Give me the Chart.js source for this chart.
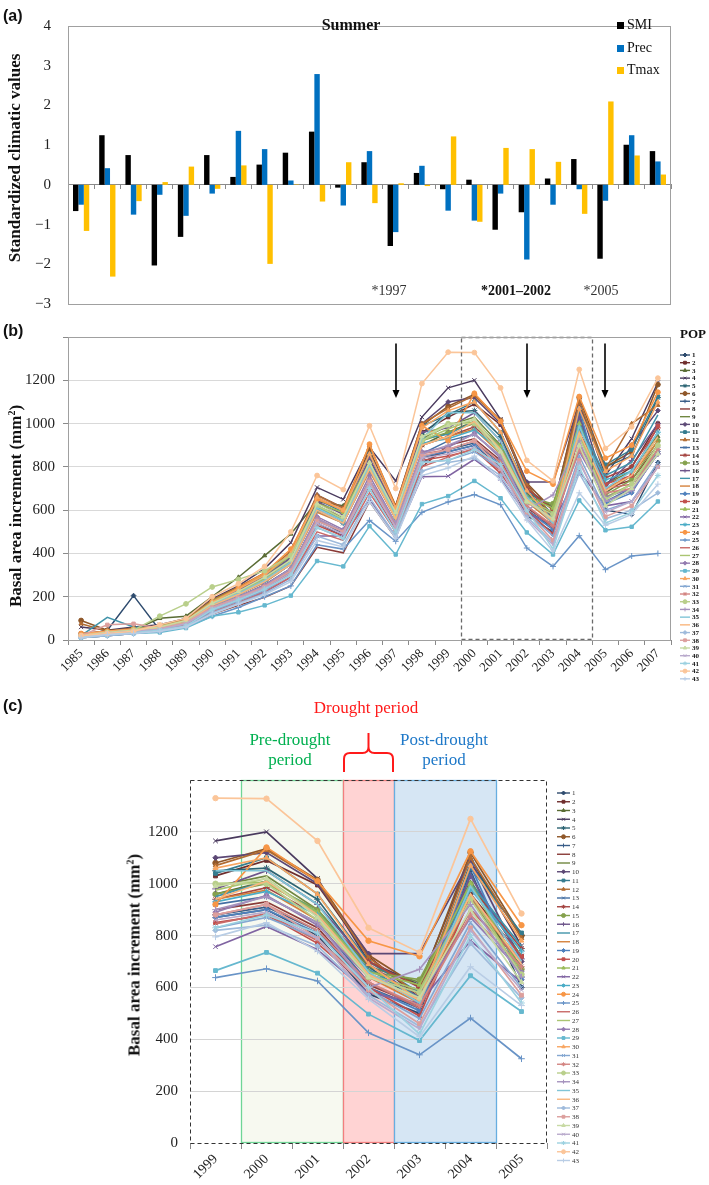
<!DOCTYPE html>
<html>
<head>
<meta charset="utf-8">
<script src="https://cdn.jsdelivr.net/npm/chart.js@4.4.1/dist/chart.umd.min.js"></script>
<style>
  html, body { margin: 0; padding: 0; background: #fff; }
  #wrap { position: relative; width: 709px; height: 1185px; overflow: hidden; font-family: "Liberation Serif", serif; color: #111; }
  canvas { position: absolute; left: 0; }
  .t { position: absolute; white-space: nowrap; transform: translate(-50%, -50%); line-height: 1; }
  .panel { position: absolute; left: 3px; font: bold 16px "Liberation Sans", Arial, sans-serif; line-height: 1; }
  .ytitle { font-weight: bold; font-size: 17px; transform: translate(-50%, -50%) rotate(-90deg); }
  .ytitle sup { font-size: 10px; vertical-align: 6px; line-height: 0; }
  .key { position: absolute; left: 617px; transform: translateY(-50%); font-size: 14px; display: flex; align-items: center; line-height: 1; }
  .key span { display: inline-block; width: 7px; height: 7px; margin-right: 3px; }
</style>
</head>
<body>
<div id="wrap">
  <canvas id="chartA" width="709" height="330" style="top:0"></canvas>
  <canvas id="chartB" width="709" height="370" style="top:320px"></canvas>
  <canvas id="chartC" width="709" height="495" style="top:690px"></canvas>

  <div class="panel" style="top:8px">(a)</div>
  <div class="panel" style="top:323px">(b)</div>
  <div class="panel" style="top:698px">(c)</div>

  <div class="t ytitle" style="left:14px;top:158px">Standardized climatic values</div>
  <div class="t ytitle" style="left:15px;top:506px">Basal area increment (mm<sup>2</sup>)</div>
  <div class="t ytitle" style="left:134px;top:955px">Basal area increment (mm<sup>2</sup>)</div>

  <div class="t" style="left:351px;top:25px;font-weight:bold;font-size:16px">Summer</div>
  <div class="key" style="top:25px"><span style="background:#000"></span>SMI</div>
  <div class="key" style="top:48px"><span style="background:#0070C0"></span>Prec</div>
  <div class="key" style="top:70px"><span style="background:#FFC000"></span>Tmax</div>

  <div class="t" style="left:389px;top:291px;font-size:14px;color:#333">*1997</div>
  <div class="t" style="left:516px;top:291px;font-size:14px;font-weight:bold">*2001–2002</div>
  <div class="t" style="left:601px;top:291px;font-size:14px;color:#333">*2005</div>

  <div class="t" style="left:693px;top:333px;font-size:13px;font-weight:bold">POP</div>

  <div class="t" style="left:366px;top:707px;font-size:17px;color:#FF1A1A">Drought period</div>
  <div class="t" style="left:290px;top:739px;font-size:17px;color:#00B050">Pre-drought</div>
  <div class="t" style="left:290px;top:759px;font-size:17px;color:#00B050">period</div>
  <div class="t" style="left:444px;top:739px;font-size:17px;color:#1E78C8">Post-drought</div>
  <div class="t" style="left:444px;top:759px;font-size:17px;color:#1E78C8">period</div>
</div>

<script>
// ── DATA ──
const years = ['1985','1986','1987','1988','1989','1990','1991','1992','1993','1994','1995','1996',
               '1997','1998','1999','2000','2001','2002','2003','2004','2005','2006','2007'];

// standardized summer climate values (panel a)
const smi  = [-0.66, 1.25, 0.75, -2.03, -1.31, 0.75, 0.20, 0.51, 0.81, 1.34, -0.07, 0.57,
              -1.54, 0.30, -0.11, 0.13, -1.13, -0.69, 0.16, 0.65, -1.86, 1.01, 0.85];
const prec = [-0.50, 0.42, -0.75, -0.25, -0.78, -0.22, 1.36, 0.90, 0.11, 2.79, -0.52, 0.85,
              -1.19, 0.48, -0.65, -0.90, -0.22, -1.88, -0.50, -0.11, -0.40, 1.25, 0.59];
const tmax = [-1.16, -2.31, -0.41, 0.07, 0.46, -0.10, 0.49, -1.99, 0.01, -0.42, 0.57, -0.46,
              0.04, -0.03, 1.22, -0.93, 0.93, 0.90, 0.58, -0.73, 2.10, 0.74, 0.26];

// basal area increment per population, 1985-2007 (panel b, c)
const pop01 = [20, 45, 205, 45, 75, 150, 200, 255, 330, 560, 490, 720, 520, 840, 870, 900, 800, 575, 500, 1050, 600, 580, 820];
const pop02 = [30, 40, 55, 60, 90, 170, 230, 290, 380, 640, 560, 820, 580, 960, 1030, 1090, 995, 720, 560, 960, 720, 800, 1000];
const pop03 = [15, 30, 45, 100, 110, 200, 290, 390, 490, 640, 620, 790, 560, 900, 960, 1010, 880, 650, 590, 940, 680, 760, 940];
const pop04 = [60, 45, 60, 70, 100, 190, 250, 330, 450, 705, 650, 890, 735, 1030, 1165, 1200, 1020, 700, 610, 1100, 760, 930, 1190];
const pop05 = [25, 35, 50, 60, 85, 175, 220, 280, 360, 620, 560, 830, 590, 950, 1050, 1060, 940, 680, 540, 1080, 800, 850, 1120];
const pop06 = [90, 45, 50, 65, 95, 180, 240, 300, 400, 660, 600, 880, 600, 990, 1080, 1135, 1015, 725, 600, 1120, 800, 870, 1180];
const pop07 = [15, 25, 35, 50, 70, 140, 185, 240, 310, 540, 480, 700, 500, 820, 880, 910, 820, 600, 520, 960, 640, 690, 860];
const pop08 = [10, 20, 30, 40, 60, 120, 160, 197, 250, 428, 403, 640, 470, 800, 900, 930, 830, 610, 530, 900, 700, 740, 900];
const pop09 = [20, 35, 45, 55, 85, 170, 225, 290, 370, 620, 560, 820, 580, 930, 990, 1030, 900, 680, 620, 1010, 720, 780, 950];
const pop10 = [25, 40, 50, 60, 90, 180, 235, 300, 390, 670, 610, 860, 620, 1000, 1100, 1120, 1000, 730, 730, 1090, 700, 900, 1060];
const pop11 = [20, 35, 50, 60, 90, 170, 230, 290, 380, 650, 590, 860, 610, 990, 1040, 1100, 960, 700, 580, 1060, 810, 880, 1125];
const pop12 = [75, 40, 55, 65, 95, 185, 245, 310, 410, 670, 610, 900, 620, 1000, 1070, 1130, 1010, 715, 570, 1100, 790, 1000, 1085];
const pop13 = [15, 30, 40, 50, 75, 150, 200, 250, 330, 560, 500, 740, 530, 860, 920, 950, 850, 620, 520, 1040, 640, 700, 880];
const pop14 = [20, 35, 45, 55, 80, 160, 210, 270, 350, 600, 540, 790, 570, 900, 940, 985, 880, 700, 600, 990, 750, 800, 980];
const pop15 = [25, 35, 50, 60, 85, 165, 220, 280, 360, 610, 560, 800, 580, 920, 960, 1000, 900, 660, 630, 1000, 670, 740, 920];
const pop16 = [20, 40, 50, 60, 90, 175, 230, 295, 380, 640, 580, 840, 600, 960, 980, 1050, 920, 690, 560, 1030, 710, 830, 1000];
const pop17 = [20, 105, 60, 55, 85, 165, 215, 275, 360, 610, 550, 810, 575, 930, 950, 1010, 890, 670, 560, 1000, 760, 820, 1040];
const pop18 = [25, 35, 45, 55, 80, 160, 210, 265, 350, 590, 540, 780, 560, 900, 940, 975, 860, 640, 540, 940, 700, 760, 920];
const pop19 = [15, 30, 40, 50, 75, 150, 195, 245, 320, 550, 500, 730, 520, 850, 870, 900, 810, 600, 510, 1070, 630, 680, 870];
const pop20 = [20, 30, 40, 50, 70, 145, 190, 240, 310, 530, 480, 710, 510, 830, 850, 880, 770, 600, 490, 950, 720, 760, 990];
const pop21 = [25, 40, 50, 65, 90, 180, 240, 300, 390, 630, 590, 820, 590, 940, 1000, 1005, 890, 660, 610, 1000, 660, 720, 900];
const pop22 = [15, 25, 35, 45, 65, 130, 170, 220, 290, 480, 480, 650, 480, 754, 757, 835, 745, 580, 540, 780, 620, 640, 800];
const pop23 = [20, 35, 45, 55, 80, 160, 210, 270, 350, 600, 540, 790, 565, 910, 930, 970, 880, 650, 550, 980, 740, 780, 960];
const pop24 = [30, 40, 50, 60, 90, 175, 240, 310, 420, 650, 600, 905, 610, 990, 920, 1140, 1010, 780, 720, 1125, 840, 900, 1145];
const pop25 = [10, 20, 30, 40, 60, 110, 150, 200, 250, 440, 420, 553, 456, 590, 638, 672, 625, 425, 340, 482, 325, 388, 400];
const pop26 = [15, 25, 35, 45, 65, 130, 175, 225, 290, 500, 460, 680, 500, 800, 845, 885, 780, 620, 520, 900, 700, 720, 880];
const pop27 = [20, 35, 45, 55, 80, 165, 220, 280, 360, 620, 560, 800, 575, 920, 975, 1020, 880, 650, 590, 960, 650, 720, 880];
const pop28 = [20, 30, 40, 50, 75, 150, 200, 255, 330, 570, 510, 760, 540, 870, 890, 955, 840, 640, 560, 870, 660, 700, 860];
const pop29 = [10, 20, 30, 35, 55, 110, 128, 160, 205, 365, 340, 526, 395, 628, 665, 735, 655, 497, 395, 645, 507, 523, 640];
const pop30 = [25, 40, 50, 60, 90, 175, 235, 300, 400, 660, 600, 860, 610, 980, 1060, 1100, 960, 690, 550, 1070, 780, 850, 1100];
const pop31 = [15, 25, 35, 45, 65, 135, 180, 230, 300, 520, 470, 700, 500, 820, 830, 870, 790, 590, 480, 850, 600, 640, 820];
const pop32 = [20, 30, 40, 50, 75, 150, 195, 250, 320, 560, 500, 740, 530, 860, 880, 920, 820, 620, 530, 880, 680, 700, 880];
const pop33 = [20, 35, 45, 110, 167, 245, 280, 320, 390, 620, 560, 800, 570, 920, 1000, 1000, 860, 640, 580, 940, 650, 720, 900];
const pop34 = [15, 30, 40, 50, 75, 150, 200, 250, 330, 560, 500, 740, 540, 860, 900, 950, 850, 600, 670, 920, 640, 690, 860];
const pop35 = [20, 35, 45, 55, 80, 165, 215, 275, 360, 610, 550, 810, 580, 930, 1050, 1050, 920, 660, 540, 990, 700, 780, 960];
const pop36 = [25, 35, 45, 55, 80, 160, 210, 270, 350, 600, 540, 790, 560, 900, 940, 1010, 880, 650, 550, 960, 690, 760, 940];
const pop37 = [10, 20, 30, 40, 60, 125, 170, 215, 280, 480, 440, 660, 480, 780, 820, 840, 760, 570, 450, 770, 560, 600, 680];
const pop38 = [20, 70, 75, 55, 80, 150, 195, 245, 320, 550, 500, 730, 520, 850, 880, 920, 790, 590, 460, 830, 570, 620, 800];
const pop39 = [20, 35, 45, 60, 90, 170, 225, 290, 370, 630, 570, 820, 590, 940, 990, 1020, 870, 640, 560, 900, 620, 700, 860];
const pop40 = [15, 30, 40, 50, 75, 145, 190, 240, 310, 540, 490, 720, 520, 840, 860, 890, 790, 560, 440, 820, 590, 640, 800];
const pop41 = [15, 25, 35, 45, 65, 140, 185, 235, 300, 520, 470, 700, 500, 820, 830, 880, 810, 600, 420, 800, 540, 590, 760];
const pop42 = [20, 30, 40, 70, 100, 200, 260, 340, 500, 760, 695, 990, 700, 1185, 1330, 1328, 1165, 830, 735, 1250, 885, 985, 1210];
const pop43 = [10, 25, 30, 40, 60, 120, 165, 210, 270, 460, 430, 640, 470, 760, 795, 850, 740, 555, 410, 680, 530, 580, 720];

const popSeries = [pop01, pop02, pop03, pop04, pop05, pop06, pop07, pop08, pop09, pop10, pop11,
                   pop12, pop13, pop14, pop15, pop16, pop17, pop18, pop19, pop20, pop21, pop22,
                   pop23, pop24, pop25, pop26, pop27, pop28, pop29, pop30, pop31, pop32, pop33,
                   pop34, pop35, pop36, pop37, pop38, pop39, pop40, pop41, pop42, pop43];

const arrowYears  = ['1997', '2002', '2005'];
const boxYears    = ['2000', '2004'];
const zoomYears   = ['1999', '2005'];
const preYears    = ['2000', '2001'];
const dryYears    = ['2002', '2002'];
const postYears   = ['2003', '2004'];

// ── STYLE HELPERS ──
Chart.defaults.font.family = '"Liberation Serif", "Times New Roman", serif';
Chart.defaults.color = '#222';

const accents = [[79,129,189],[192,80,77],[155,187,89],[128,100,162],[75,172,198],[247,150,70]];
const shades  = [-0.42, -0.28, -0.14, 0, 0.15, 0.3, 0.45, 0.6];
const markers = ['rectRot', 'rect', 'triangle', 'crossRot', 'star', 'circle', 'cross', false, false];

function popColor(i) {
    const c = accents[i % 6];
    const f = shades[Math.floor(i / 6)];
    const v = c.map(x => f < 0 ? Math.round(x * (1 + f)) : Math.round(x + (255 - x) * f));
    return `rgb(${v.join(',')})`;
}

function popDatasets(from, to, lw, pr) {
    return popSeries.map((arr, i) => {
        const mk = markers[i % 9];
        const thin = mk === 'cross' || mk === 'crossRot' || mk === 'star';
        return {
            label: String(i + 1),
            data: arr.slice(from, to + 1),
            borderColor: popColor(i),
            backgroundColor: popColor(i),
            pointBackgroundColor: popColor(i),
            pointBorderColor: popColor(i),
            pointStyle: mk,
            pointRadius: mk ? (thin ? pr + 0.6 : pr) : 0,
            pointBorderWidth: 1,
            pointHoverRadius: 0,
            borderWidth: lw,
            tension: 0,
            fill: false,
            order: popSeries.length - i
        };
    });
}

function framePlugin(color, dash) {
    return {
        id: 'frame',
        afterDraw(chart) {
            const { ctx, chartArea: a } = chart;
            ctx.save();
            ctx.strokeStyle = color;
            ctx.lineWidth = 1;
            ctx.setLineDash(dash || []);
            ctx.strokeRect(Math.round(a.left) + 0.5, Math.round(a.top) + 0.5,
                           Math.round(a.right - a.left) - 1, Math.round(a.bottom - a.top));
            ctx.restore();
        }
    };
}

function legendPlugin(o) {
    return {
        id: 'popLegend',
        afterDraw(chart) {
            const ctx = chart.ctx;
            ctx.save();
            ctx.font = o.font;
            ctx.textBaseline = 'middle';
            chart.data.datasets.forEach((ds, i) => {
                const y = o.y0 + i * o.step;
                ctx.strokeStyle = ds.borderColor;
                ctx.fillStyle = ds.borderColor;
                ctx.lineWidth = 1.4;
                ctx.beginPath();
                ctx.moveTo(o.x0, y);
                ctx.lineTo(o.x0 + o.len, y);
                ctx.stroke();
                if (ds.pointStyle && Chart.helpers && Chart.helpers.drawPoint) {
                    ctx.lineWidth = 1;
                    Chart.helpers.drawPoint(ctx, { pointStyle: ds.pointStyle, radius: o.r, borderWidth: 1, rotation: 0 },
                                            o.x0 + o.len / 2, y);
                }
                ctx.fillStyle = o.color;
                ctx.fillText(ds.label, o.x0 + o.len + 2, y + 0.5);
            });
            ctx.restore();
        }
    };
}

const baseOpts = {
    responsive: false,
    animation: false,
    events: [],
    plugins: { legend: { display: false }, tooltip: { enabled: false } }
};

// ── PANEL A: CLIMATE BARS ──
new Chart(document.getElementById('chartA'), {
    type: 'bar',
    data: {
        labels: years,
        datasets: [
            { label: 'SMI',  data: smi,  backgroundColor: '#000000' },
            { label: 'Prec', data: prec, backgroundColor: '#0070C0' },
            { label: 'Tmax', data: tmax, backgroundColor: '#FFC000' }
        ]
    },
    options: {
        ...baseOpts,
        layout: { padding: { top: 6, right: 38, bottom: 12, left: 0 } },
        datasets: { bar: { categoryPercentage: 0.62, barPercentage: 1.0 } },
        scales: {
            x: {
                position: { y: 0 },
                offset: true,
                ticks: { display: false },
                grid: { drawOnChartArea: false, offset: true, tickLength: 4, color: '#8a8a8a' },
                border: { color: '#8a8a8a' },
                afterFit: s => { s.height = 0; }
            },
            y: {
                min: -3, max: 4,
                ticks: { stepSize: 1, padding: 17, font: { size: 15 },
                         callback: v => v < 0 ? '\u2212' + Math.abs(v) : String(v) },
                grid: { display: false, drawTicks: false },
                border: { display: false },
                afterFit: s => { s.width = 68; }
            }
        }
    },
    plugins: [framePlugin('#a0a0a0')]
});

// ── PANEL B: BAI 1985-2007 ──
const droughtMarks = {
    id: 'droughtMarks',
    afterDatasetsDraw(chart) {
        const { ctx, chartArea: a, scales: { x, y } } = chart;
        const half = (x.getPixelForValue(1) - x.getPixelForValue(0)) / 2;
        const l = x.getPixelForValue(years.indexOf(boxYears[0])) - half;
        const r = x.getPixelForValue(years.indexOf(boxYears[1])) + half;
        ctx.save();
        ctx.setLineDash([4, 3]);
        ctx.strokeStyle = '#6a6a6a';
        ctx.lineWidth = 1.3;
        ctx.strokeRect(Math.round(l) + 0.5, Math.round(a.top) + 0.5, Math.round(r - l), Math.round(a.bottom - a.top) - 1);
        ctx.setLineDash([]);
        ctx.strokeStyle = '#000';
        ctx.fillStyle = '#000';
        ctx.lineWidth = 1.6;
        arrowYears.forEach(yr => {
            const px = Math.round(x.getPixelForValue(years.indexOf(yr)));
            const y0 = y.getPixelForValue(1370), y1 = y.getPixelForValue(1118);
            ctx.beginPath();
            ctx.moveTo(px, y0);
            ctx.lineTo(px, y1 - 6);
            ctx.stroke();
            ctx.beginPath();
            ctx.moveTo(px - 3.5, y1 - 8);
            ctx.lineTo(px + 3.5, y1 - 8);
            ctx.lineTo(px, y1);
            ctx.closePath();
            ctx.fill();
        });
        ctx.restore();
    }
};

new Chart(document.getElementById('chartB'), {
    type: 'line',
    data: { labels: years, datasets: popDatasets(0, years.length - 1, 1.5, 2.4) },
    options: {
        ...baseOpts,
        layout: { padding: { top: 7, right: 38, bottom: 0, left: 0 } },
        scales: {
            x: {
                offset: true,
                ticks: { minRotation: 45, maxRotation: 45, autoSkip: false, padding: 1, font: { size: 13 } },
                grid: { drawOnChartArea: false, offset: true, tickLength: 5, color: '#8a8a8a' },
                border: { color: '#8a8a8a' },
                afterFit: s => { s.height = 50; }
            },
            y: {
                min: 0, max: 1400,
                ticks: { stepSize: 200, padding: 8, font: { size: 15 },
                         callback: v => v === 1400 ? '' : String(v) },
                grid: {
                    color: c => (c.tick && (c.tick.value === 0 || c.tick.value === 1400)) ? 'rgba(0,0,0,0)' : '#d9d9d9',
                    tickColor: '#8a8a8a', tickLength: 5
                },
                border: { color: '#a0a0a0' },
                afterFit: s => { s.width = 68; }
            }
        }
    },
    plugins: [framePlugin('#a0a0a0'), droughtMarks,
              legendPlugin({ x0: 680, len: 10, y0: 35, step: 7.71, r: 2, font: 'bold 7px "Liberation Serif"', color: '#111' })]
});

// ── PANEL C: BAI 1999-2005 ──
const zFrom = years.indexOf(zoomYears[0]);
const zTo   = years.indexOf(zoomYears[1]);
const zLabels = years.slice(zFrom, zTo + 1);

function spanPx(x, span) {
    const half = (x.getPixelForValue(1) - x.getPixelForValue(0)) / 2;
    return [x.getPixelForValue(zLabels.indexOf(span[0])) - half, x.getPixelForValue(zLabels.indexOf(span[1])) + half];
}

const periodShading = {
    id: 'periodShading',
    beforeDraw(chart) {
        const { ctx, chartArea: a, scales: { x } } = chart;
        const bands = [
            [preYears,  '#F7F9F0', '#6FD596'],
            [dryYears,  '#FFD3D3', '#F27E7E'],
            [postYears, '#D6E6F4', '#67AEE0']
        ];
        ctx.save();
        bands.forEach(([span, fill, stroke]) => {
            const [l, r] = spanPx(x, span);
            ctx.fillStyle = fill;
            ctx.fillRect(l, a.top, r - l, a.bottom - a.top);
            ctx.strokeStyle = stroke;
            ctx.lineWidth = 1.3;
            ctx.strokeRect(Math.round(l) + 0.5, Math.round(a.top) + 0.5, Math.round(r - l), Math.round(a.bottom - a.top) - 1);
        });
        ctx.restore();
    },
    afterDraw(chart) {
        const { ctx, chartArea: a, scales: { x } } = chart;
        const [l, r] = spanPx(x, dryYears);
        const m = (l + r) / 2, yb = a.top - 8, ys = a.top - 27, yt = a.top - 47, k = 6;
        ctx.save();
        ctx.strokeStyle = '#FF1A1A';
        ctx.lineWidth = 2;
        ctx.beginPath();
        ctx.moveTo(l + 1, yb);
        ctx.lineTo(l + 1, ys + k);
        ctx.quadraticCurveTo(l + 1, ys, l + 1 + k, ys);
        ctx.lineTo(m - k, ys);
        ctx.quadraticCurveTo(m, ys, m, ys - k);
        ctx.lineTo(m, yt);
        ctx.moveTo(m, ys - k);
        ctx.quadraticCurveTo(m, ys, m + k, ys);
        ctx.lineTo(r - 1 - k, ys);
        ctx.quadraticCurveTo(r - 1, ys, r - 1, ys + k);
        ctx.lineTo(r - 1, yb);
        ctx.stroke();
        ctx.restore();
    }
};

new Chart(document.getElementById('chartC'), {
    type: 'line',
    data: { labels: zLabels, datasets: popDatasets(zFrom, zTo, 1.7, 2.7) },
    options: {
        ...baseOpts,
        layout: { padding: { top: 90, right: 162, bottom: 0, left: 0 } },
        scales: {
            x: {
                offset: true,
                ticks: { minRotation: 45, maxRotation: 45, autoSkip: false, padding: 2, font: { size: 14 } },
                grid: { drawOnChartArea: false, offset: true, tickLength: 6, color: '#8a8a8a' },
                border: { display: false },
                afterFit: s => { s.height = 42; }
            },
            y: {
                min: 0, max: 1400,
                ticks: { stepSize: 200, padding: 12, font: { size: 15 },
                         callback: v => v === 1400 ? '' : String(v) },
                grid: {
                    drawTicks: false,
                    color: c => (c.tick && (c.tick.value === 0 || c.tick.value === 1400)) ? 'rgba(0,0,0,0)' : '#d4d4d4'
                },
                border: { display: false },
                afterFit: s => { s.width = 190; }
            }
        }
    },
    plugins: [periodShading, framePlugin('#333', [4, 3]),
              legendPlugin({ x0: 557, len: 13, y0: 103, step: 8.75, r: 2, font: '7px "Liberation Serif"', color: '#333' })]
});
</script>
</body>
</html>
